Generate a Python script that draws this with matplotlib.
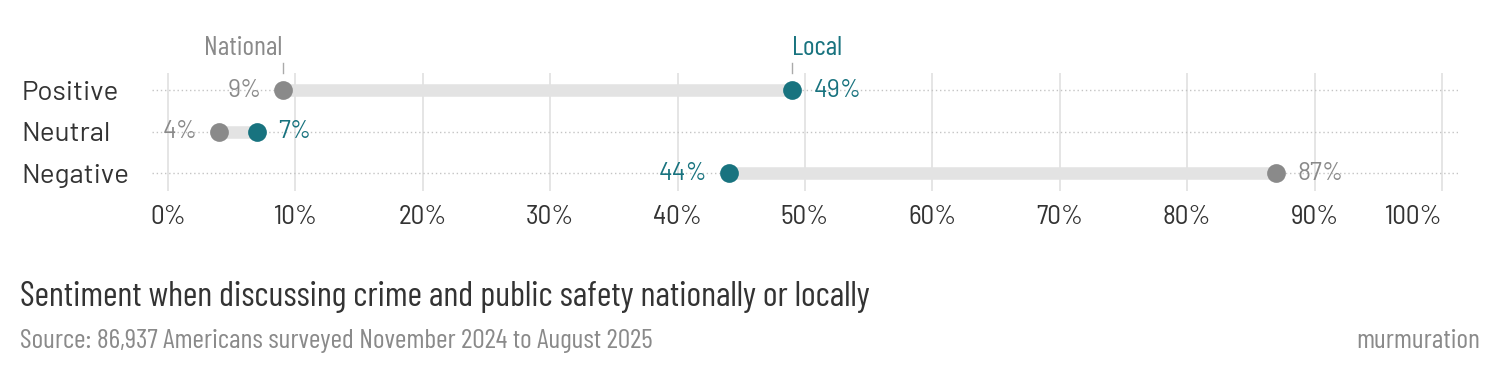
import matplotlib.pyplot as plt

plt.rcParams['font.family'] = ['Barlow Semi Condensed', 'DejaVu Sans']
COND = ['Barlow Condensed', 'Barlow Semi Condensed', 'DejaVu Sans']
WIDE = ['Barlow', 'DejaVu Sans']

categories = ['Positive', 'Neutral', 'Negative']
national = [9, 4, 87]
local = [49, 7, 44]
ticks = [0, 10, 20, 30, 40, 50, 60, 70, 80, 90, 100]

GREY = '#8a8a8a'
TEAL = '#18737f'
DARK = '#333333'

fig = plt.figure(figsize=(15, 3.8), dpi=100)
ax = fig.add_axes([0.1013, 0.497, 0.8707, 0.311])

ys = list(range(len(categories)))
for y, n, l in zip(ys, national, local):
    ax.plot([n, l], [y, y], color='#e3e3e3', lw=9, solid_capstyle='butt', zorder=2)
    ax.plot(n, y, 'o', color=GREY, ms=13.5, zorder=4, mec='none')
    ax.plot(l, y, 'o', color=TEAL, ms=13.5, zorder=4, mec='none')
    off = 1.65
    if n < l:
        ax.text(n - off, y, f'{n}%', color=GREY, ha='right', va='center', fontsize=18,
                family=WIDE)
        ax.text(l + off, y, f'{l}%', color=TEAL, ha='left', va='center', fontsize=18,
                family=WIDE)
    else:
        ax.text(n + off, y, f'{n}%', color=GREY, ha='left', va='center', fontsize=18,
                family=WIDE)
        ax.text(l - off, y, f'{l}%', color=TEAL, ha='right', va='center', fontsize=18,
                family=WIDE)
    ax.axhline(y, color='#c4c4c4', lw=1, ls=(0, (1, 2)), zorder=1)

# series labels above first row
ax.text(national[0], -0.84, 'National', color=GREY, ha='right', va='baseline',
        fontsize=20, family=COND)
ax.text(local[0], -0.84, 'Local', color=TEAL, ha='left', va='baseline',
        fontsize=20, family=COND)
ax.plot([national[0], national[0]], [-0.65, -0.42], color='#aaaaaa', lw=1, clip_on=False)
ax.plot([local[0], local[0]], [-0.65, -0.42], color='#aaaaaa', lw=1, clip_on=False)

ax.set_xlim(-1.26, 101.26)
ax.set_ylim(2.43, -0.41)
ax.set_xticks(ticks)
ax.set_xticklabels([f'{t}%' for t in ticks], fontsize=19.5, color=DARK)
ax.get_xticklabels()[-1].set_ha('right')
ax.set_yticks(ys)
ax.set_yticklabels(categories, fontsize=20, color=DARK, ha='left', family=WIDE)
ax.tick_params(axis='y', length=0, pad=94)
ax.tick_params(axis='x', length=0, pad=10)
ax.grid(axis='x', color='#e0e0e0', lw=1.2, zorder=0)
ax.set_axisbelow(True)
for s in ax.spines.values():
    s.set_visible(False)

fig.text(0.0133, 0.219, 'Sentiment when discussing crime and public safety nationally or locally',
         fontsize=25.3, color=DARK, va='center', family=COND)
fig.text(0.0133, 0.103, 'Source: 86,937 Americans surveyed November 2024 to August 2025',
         fontsize=20, color=GREY, va='center', family=COND)
fig.text(0.9867, 0.103, 'murmuration', fontsize=20, color=GREY, va='center', ha='right',
         family=COND)

fig.savefig('out.png', dpi=100)
